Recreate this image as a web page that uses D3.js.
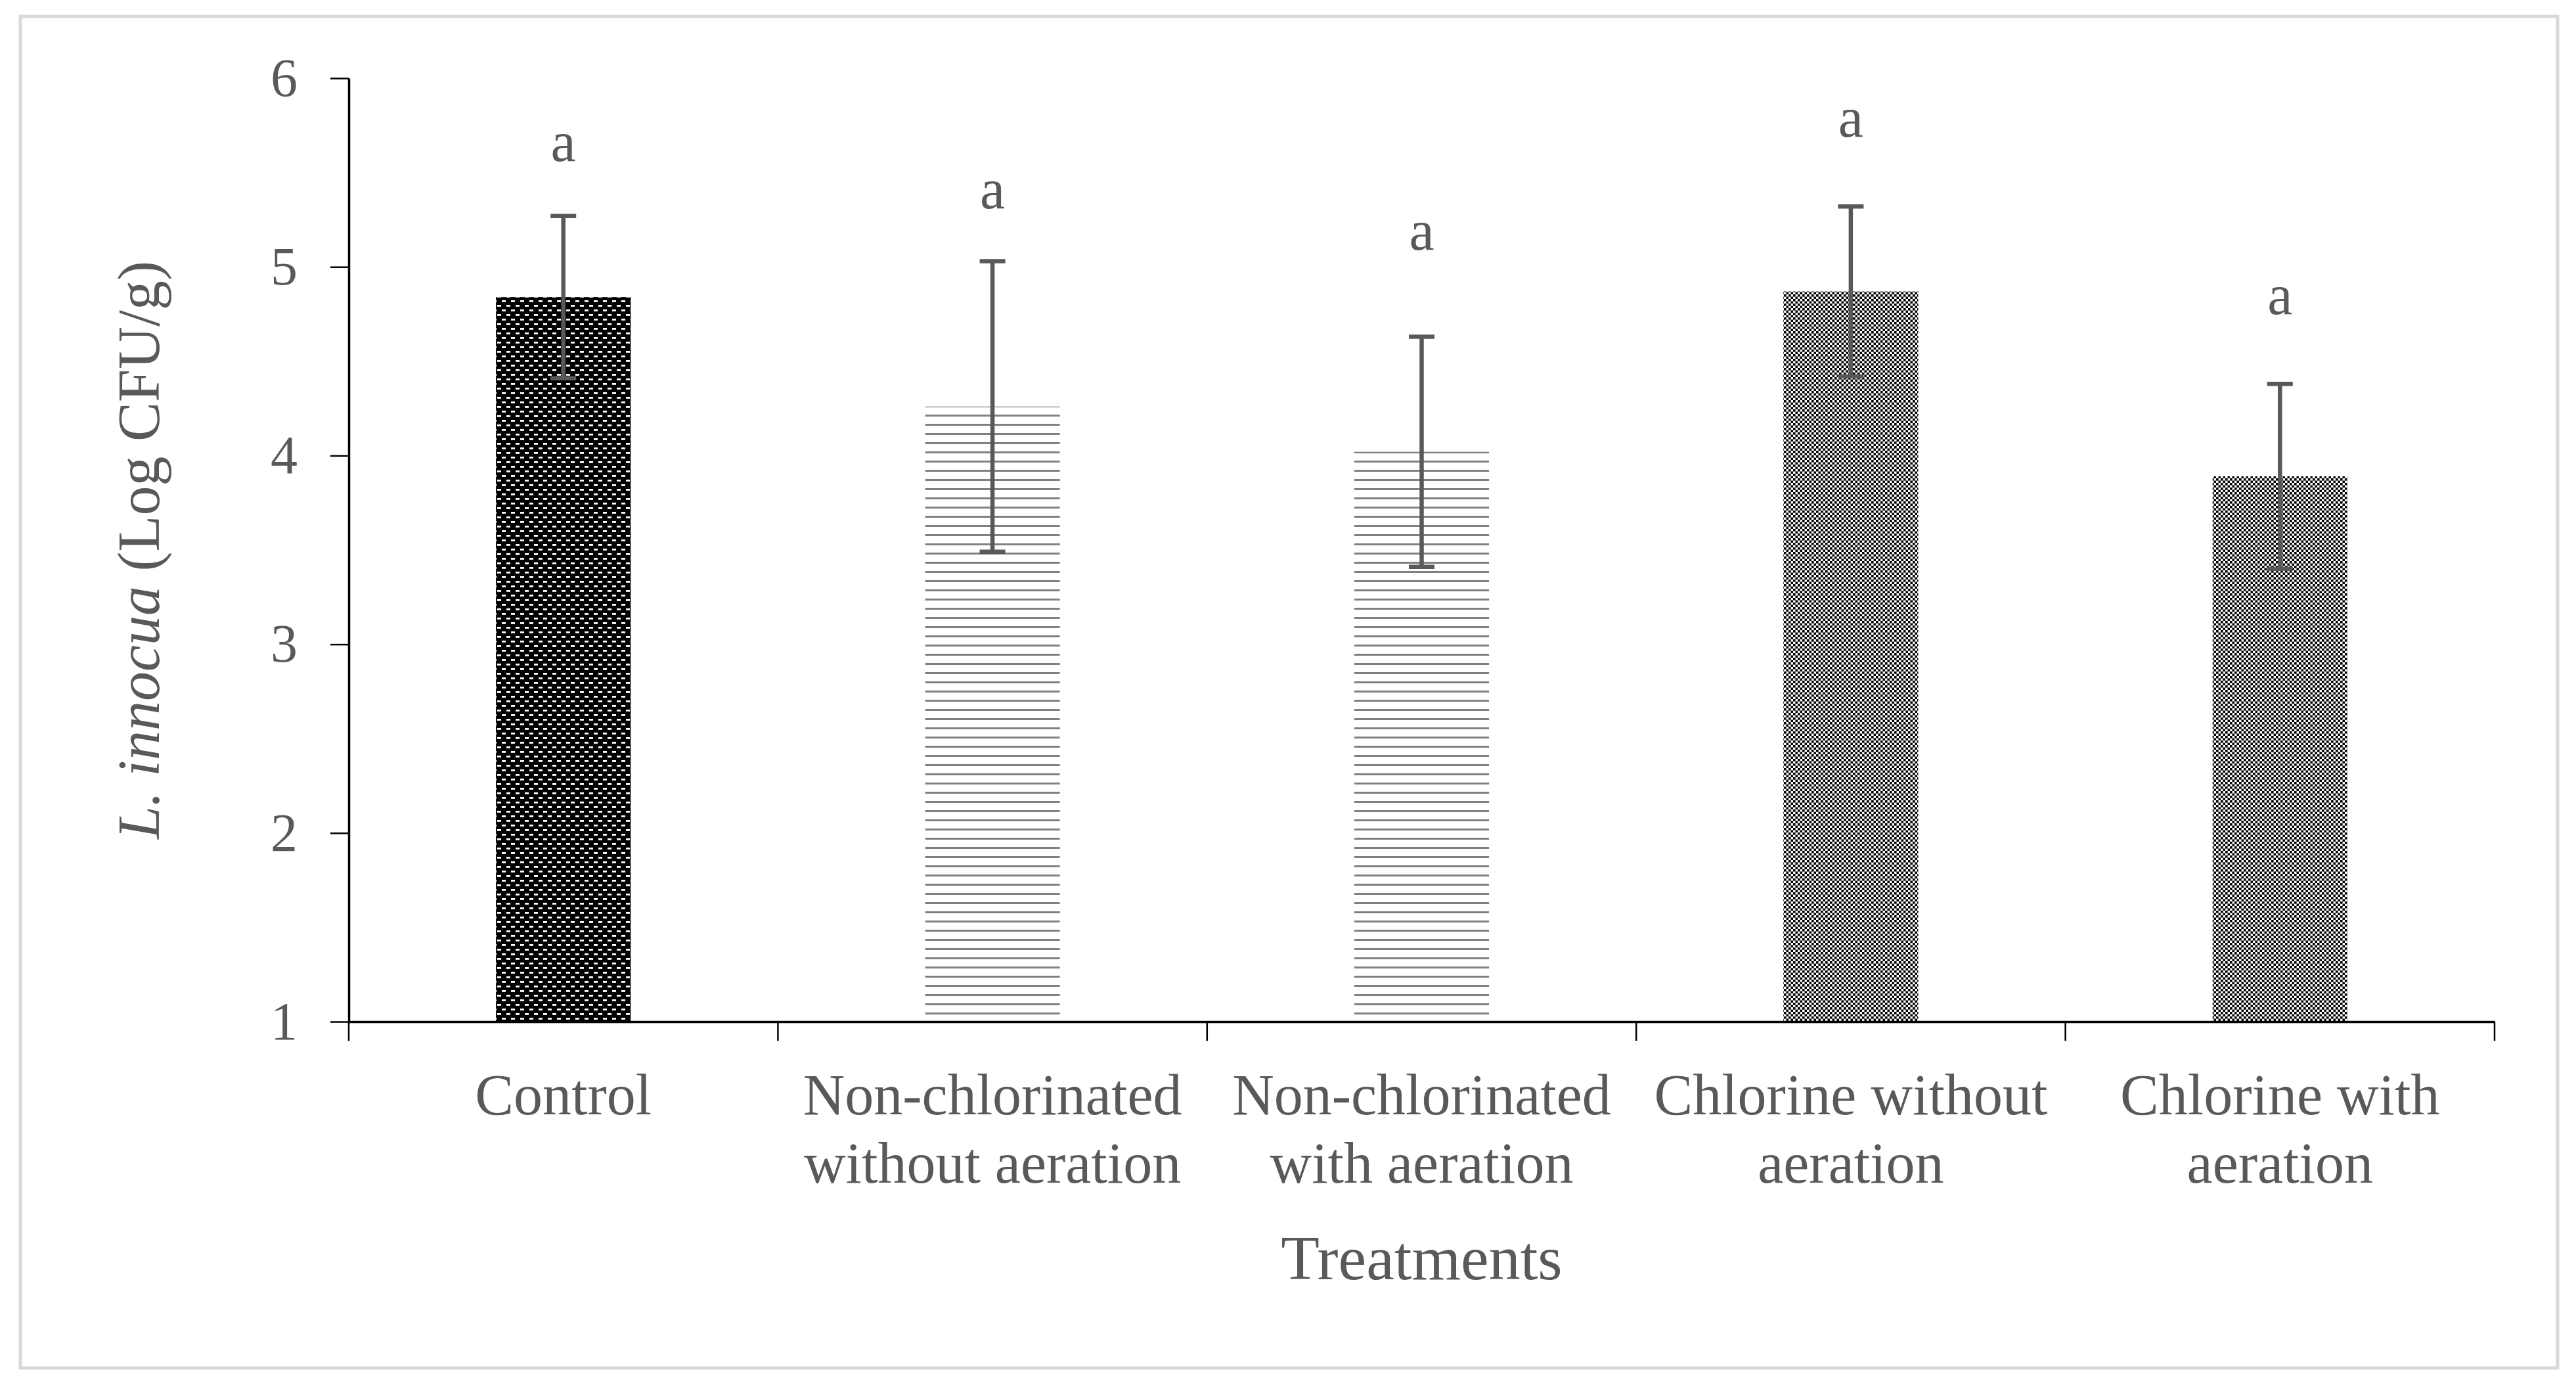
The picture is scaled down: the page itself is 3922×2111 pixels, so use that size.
<!DOCTYPE html>
<html>
<head>
<meta charset="utf-8">
<script src="https://cdn.jsdelivr.net/npm/d3@7"></script>
<style>
  body { margin: 0; background: #fff; }
  svg text { font-family: "Palatino Linotype", "Book Antiqua", Palatino, "Liberation Serif", "DejaVu Serif", serif; fill: #595959; }
</style>
</head>
<body>
<div id="chart"></div>
<script>
// data
const categories = ["Control", "Non-chlorinated without aeration", "Non-chlorinated with aeration", "Chlorine without aeration", "Chlorine with aeration"];
const categoryLines = [["Control"], ["Non-chlorinated", "without aeration"], ["Non-chlorinated", "with aeration"], ["Chlorine without", "aeration"], ["Chlorine with", "aeration"]];
const means = [4.84, 4.26, 4.02, 4.87, 3.89];
const errors = [0.43, 0.77, 0.61, 0.45, 0.49];
const letters = ["a", "a", "a", "a", "a"];
const letterLevels = [5.56, 5.31, 5.09, 5.69, 4.75];
const patterns = ["pDark", "pLines", "pLines", "pCheck", "pCheck"];
const yTicks = [1, 2, 3, 4, 5, 6];

const W = 3922, H = 2111;
const plotLeft = 531, plotRight = 3798, plotTop = 119, plotBottom = 1555;

const svg = d3.select("#chart").append("svg")
    .attr("width", W).attr("height", H)
    .attr("viewBox", `0 0 ${W} ${H}`);

svg.append("rect").attr("width", W).attr("height", H).attr("fill", "#fff");

// outer frame
svg.append("rect")
    .attr("x", 31).attr("y", 25)
    .attr("width", 3894 - 31).attr("height", 2082 - 25)
    .attr("fill", "none").attr("stroke", "#d9d9d9").attr("stroke-width", 5);

const defs = svg.append("defs");

// control: black with small white dashes
const pDark = defs.append("pattern").attr("id", "pDark")
    .attr("patternUnits", "userSpaceOnUse").attr("width", 14).attr("height", 14);
pDark.append("rect").attr("width", 14).attr("height", 14).attr("fill", "#000");
pDark.append("rect").attr("x", 1).attr("y", 2).attr("width", 6).attr("height", 2.8).attr("fill", "#fff");
pDark.append("rect").attr("x", 8).attr("y", 9).attr("width", 6).attr("height", 2.8).attr("fill", "#fff");

// non-chlorinated: gray horizontal lines
const pLines = defs.append("pattern").attr("id", "pLines")
    .attr("patternUnits", "userSpaceOnUse").attr("width", 14).attr("height", 14);
pLines.append("rect").attr("width", 14).attr("height", 14).attr("fill", "#fff");
pLines.append("rect").attr("x", 0).attr("y", 1).attr("width", 14).attr("height", 3).attr("fill", "#808080");

// chlorine: fine checker
const pCheck = defs.append("pattern").attr("id", "pCheck")
    .attr("patternUnits", "userSpaceOnUse").attr("width", 7).attr("height", 7);
pCheck.append("rect").attr("width", 7).attr("height", 7).attr("fill", "#fff");
pCheck.append("rect").attr("x", 0).attr("y", 0).attr("width", 3.6).attr("height", 3.6).attr("fill", "#000");
pCheck.append("rect").attr("x", 3.5).attr("y", 3.5).attr("width", 3.6).attr("height", 3.6).attr("fill", "#000");

const x = d3.scaleBand()
    .domain(categories)
    .range([plotLeft, plotRight])
    .paddingInner(0.686)
    .paddingOuter(0.343);

const y = d3.scaleLinear().domain([1, 6]).range([plotBottom, plotTop]);

const gap = x.step() * x.paddingInner() / 2;

// bars
svg.append("g").selectAll("rect")
    .data(categories)
    .join("rect")
    .attr("x", d => x(d))
    .attr("width", x.bandwidth())
    .attr("y", (d, i) => y(means[i]))
    .attr("height", (d, i) => y(1) - y(means[i]))
    .attr("fill", (d, i) => `url(#${patterns[i]})`);

// error bars
const eb = svg.append("g").attr("stroke", "#595959").attr("stroke-width", 6.5);
categories.forEach((c, i) => {
    const cx = x(c) + x.bandwidth() / 2;
    const hi = y(means[i] + errors[i]), lo = y(means[i] - errors[i]);
    eb.append("line").attr("x1", cx).attr("x2", cx).attr("y1", hi).attr("y2", lo);
    eb.append("line").attr("x1", cx - 19.5).attr("x2", cx + 19.5).attr("y1", hi).attr("y2", hi);
    eb.append("line").attr("x1", cx - 19.5).attr("x2", cx + 19.5).attr("y1", lo).attr("y2", lo);
});

// significance letters
svg.append("g").selectAll("text")
    .data(categories)
    .join("text")
    .attr("x", d => x(d) + x.bandwidth() / 2)
    .attr("y", (d, i) => y(letterLevels[i]))
    .attr("text-anchor", "middle")
    .attr("font-size", 86)
    .text((d, i) => letters[i]);

// y axis
const yAxis = svg.append("g")
    .attr("transform", `translate(${plotLeft},0)`)
    .call(d3.axisLeft(y).tickValues(yTicks).tickFormat(d3.format("d"))
        .tickSize(28).tickSizeOuter(0).tickPadding(50));
yAxis.attr("font-family", null);
yAxis.select(".domain").attr("stroke", "#000").attr("stroke-width", 3.5);
yAxis.selectAll(".tick line").attr("stroke", "#000").attr("stroke-width", 2.5);
yAxis.selectAll(".tick text").attr("font-size", 82).attr("fill", "#595959");

// x axis
const xAxis = svg.append("g")
    .attr("transform", `translate(0,${plotBottom})`)
    .call(d3.axisBottom(x).tickSize(0).tickSizeOuter(0).tickFormat(""));
xAxis.select(".domain").attr("stroke", "#000").attr("stroke-width", 3.5);

const bounds = categories.map(c => x(c) - gap).concat([plotRight]);
xAxis.selectAll(".bound")
    .data(bounds)
    .join("line")
    .attr("class", "bound")
    .attr("x1", d => d).attr("x2", d => d)
    .attr("y1", 0).attr("y2", 29)
    .attr("stroke", "#000").attr("stroke-width", 2.5);

// category labels
const lab = svg.append("g");
categories.forEach((c, i) => {
    const t = lab.append("text")
        .attr("x", x(c) + x.bandwidth() / 2)
        .attr("y", 1696)
        .attr("text-anchor", "middle")
        .attr("font-size", 88);
    categoryLines[i].forEach((line, j) => {
        t.append("tspan")
            .attr("x", x(c) + x.bandwidth() / 2)
            .attr("dy", j === 0 ? 0 : 104)
            .text(line);
    });
});

// axis titles
svg.append("text")
    .attr("x", (plotLeft + plotRight) / 2)
    .attr("y", 1947)
    .attr("text-anchor", "middle")
    .attr("font-size", 96)
    .text("Treatments");

const yt = svg.append("text")
    .attr("transform", `translate(242,${(plotTop + plotBottom) / 2}) rotate(-90)`)
    .attr("text-anchor", "middle")
    .attr("font-size", 90);
yt.append("tspan").attr("font-style", "italic").text("L. innocua");
yt.append("tspan").text(" (Log CFU/g)");
</script>
</body>
</html>
